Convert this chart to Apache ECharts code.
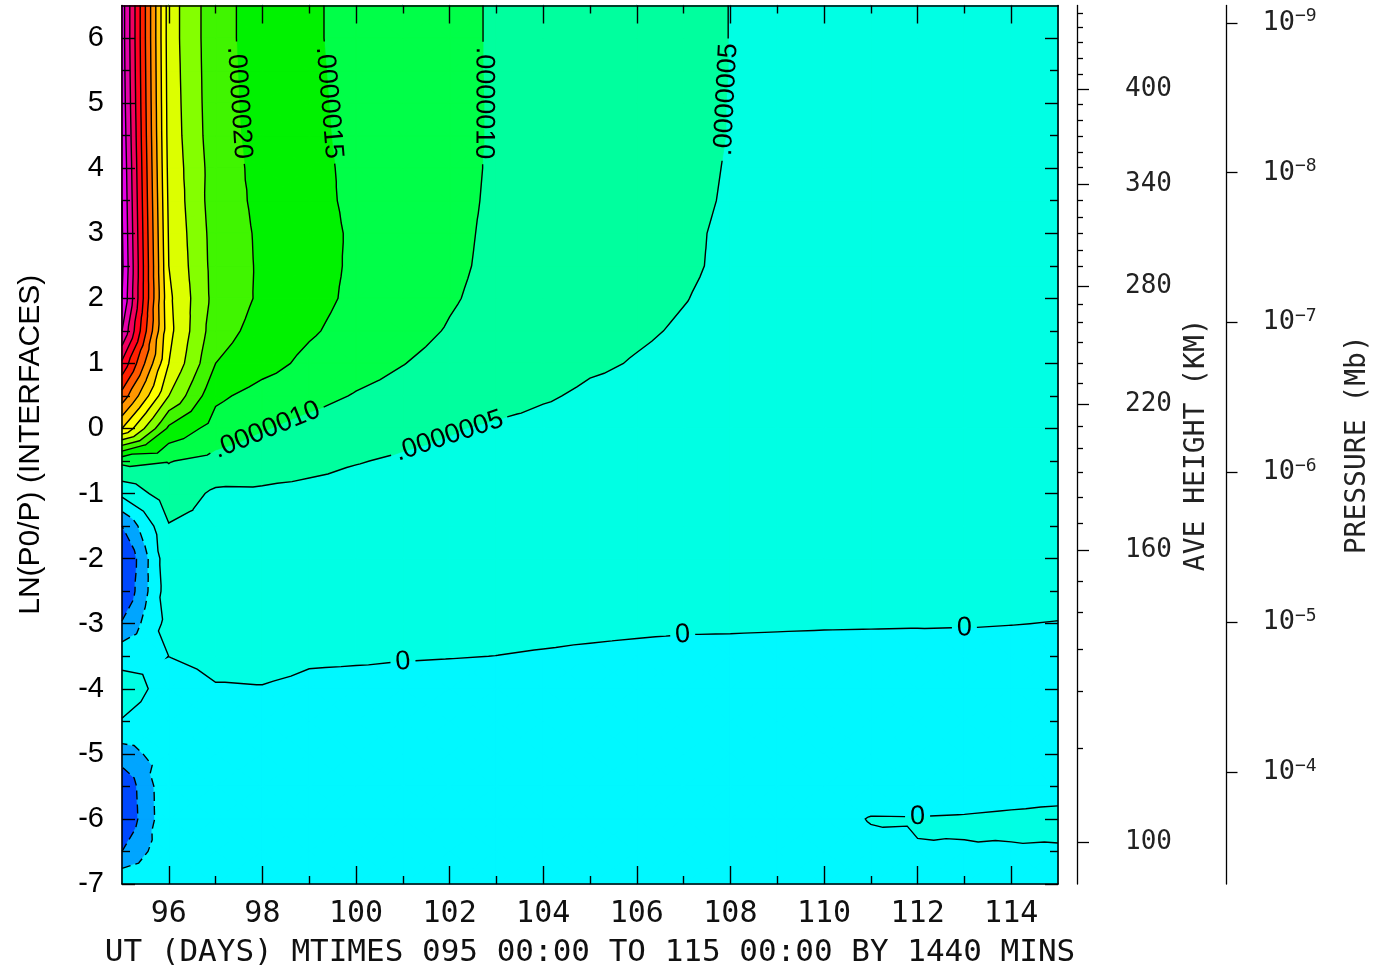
<!DOCTYPE html>
<html>
<head>
<meta charset="utf-8">
<script src="https://cdn.jsdelivr.net/npm/echarts@6.0.0/dist/echarts.min.js"></script>
<style>
html,body{margin:0;padding:0;background:#fff;}
#chart{width:1389px;height:973px;}
</style>
</head>
<body>
<div id="chart"></div>
<script>
// ================= DATA (values in units of 1e-6) =================
const days = [95,96,97,98,99,100,101,102,103,104,105,106,107,108,109,110,111,112,113,114,115];
const zp = [-7,-6.5,-6,-5.5,-5,-4.5,-4,-3.5,-3,-2.5,-2,-1.5,-1,-0.5,0,0.5,1,1.5,2,2.5,3,3.5,4,4.5,5,5.5,6,6.5];

const rowZ650 = [7.75,3.25,2.16,1.80,1.56,1.37,1.24,1.10,0.96,0.87,0.79,0.70,0.60,0.495,0.44,0.39,0.35,0.31,0.28,0.25,0.22];
const rowZ600 = [7.75,3.25,2.16,1.80,1.56,1.37,1.24,1.10,0.96,0.87,0.79,0.70,0.60,0.495,0.44,0.39,0.35,0.31,0.28,0.25,0.22];
const rowZ550 = [7.78,3.27,2.17,1.81,1.57,1.38,1.24,1.10,0.96,0.87,0.79,0.70,0.60,0.495,0.44,0.39,0.35,0.31,0.28,0.25,0.22];
const rowZ500 = [7.82,3.29,2.18,1.82,1.58,1.39,1.25,1.11,0.96,0.87,0.79,0.70,0.60,0.49,0.44,0.39,0.35,0.31,0.28,0.25,0.22];
const rowZ450 = [7.88,3.31,2.20,1.83,1.59,1.40,1.26,1.11,0.96,0.87,0.78,0.69,0.59,0.49,0.43,0.39,0.35,0.31,0.28,0.25,0.22];
const rowZ400 = [7.95,3.35,2.25,1.85,1.60,1.42,1.27,1.12,0.95,0.86,0.78,0.69,0.58,0.48,0.43,0.38,0.34,0.31,0.28,0.25,0.22];
const rowZ350 = [8.00,3.40,2.23,1.89,1.62,1.42,1.28,1.11,0.94,0.85,0.77,0.67,0.57,0.47,0.42,0.38,0.34,0.30,0.27,0.24,0.21];
const rowZ300 = [8.05,3.45,2.28,1.92,1.66,1.44,1.28,1.10,0.92,0.83,0.74,0.65,0.55,0.45,0.41,0.37,0.33,0.30,0.27,0.24,0.21];
const rowZ250 = [8.10,3.50,2.30,1.93,1.67,1.43,1.27,1.08,0.91,0.80,0.70,0.60,0.54,0.45,0.40,0.36,0.32,0.29,0.26,0.23,0.21];
const rowZ200 = [8.00,3.60,2.32,1.92,1.66,1.40,1.24,1.04,0.88,0.76,0.65,0.58,0.51,0.43,0.38,0.34,0.31,0.28,0.25,0.23,0.20];
const rowZ150 = [7.50,3.65,2.20,1.82,1.56,1.32,1.14,0.97,0.82,0.70,0.60,0.54,0.47,0.41,0.37,0.33,0.30,0.27,0.25,0.22,0.20];
const rowZ100 = [6.40,3.50,2.00,1.68,1.38,1.17,1.01,0.87,0.76,0.66,0.55,0.48,0.42,0.38,0.34,0.31,0.28,0.26,0.24,0.21,0.19];
const rowZ050 = [5.30,3.00,1.60,1.31,1.15,0.97,0.86,0.76,0.67,0.54,0.44,0.40,0.36,0.33,0.30,0.28,0.26,0.24,0.22,0.20,0.18];
const rowZ000 = [4.00,1.90,1.29,1.03,0.85,0.72,0.62,0.53,0.44,0.38,0.34,0.31,0.29,0.27,0.25,0.23,0.21,0.19,0.18,0.16,0.15];
const rowZm050 = [1.12,1.02,0.85,0.72,0.62,0.52,0.45,0.40,0.35,0.31,0.28,0.26,0.24,0.22,0.20,0.18,0.16,0.15,0.14,0.13,0.12];
const rowZm100 = [0.12,0.775,0.42,0.43,0.39,0.35,0.31,0.28,0.25,0.22,0.20,0.18,0.16,0.15,0.14,0.13,0.12,0.11,0.10,0.10,0.09];
const rowZm150 = [-1.00,0.47,0.35,0.30,0.27,0.24,0.22,0.20,0.18,0.16,0.15,0.13,0.12,0.11,0.10,0.09,0.09,0.08,0.08,0.07,0.07];
const rowZm200 = [-1.62,0.38,0.27,0.23,0.20,0.18,0.16,0.14,0.13,0.12,0.11,0.10,0.09,0.08,0.08,0.07,0.07,0.06,0.06,0.05,0.05];
const rowZm250 = [-1.50,0.30,0.20,0.17,0.15,0.13,0.12,0.10,0.09,0.085,0.08,0.075,0.07,0.065,0.06,0.055,0.05,0.045,0.04,0.035,0.03];
const rowZm300 = [-0.95,0.18,0.12,0.10,0.08,0.07,0.06,0.05,0.04,0.035,0.03,0.025,0.02,0.018,0.015,0.012,0.01,0.008,0.006,0.002,-0.003];
const rowZm350 = [-0.14,0.002,0.08,0.07,0.025,0.02,0.01,0.005,-0.001,-0.01,-0.02,-0.03,-0.04,-0.04,-0.045,-0.05,-0.05,-0.05,-0.04,-0.04,-0.04];
const rowZm400 = [0.186,-0.146,-0.02,-0.01,-0.04,-0.05,-0.05,-0.06,-0.06,-0.07,-0.07,-0.07,-0.07,-0.07,-0.07,-0.07,-0.07,-0.07,-0.07,-0.07,-0.07];
const rowZm450 = [-0.02,-0.20,-0.08,-0.08,-0.08,-0.08,-0.08,-0.08,-0.08,-0.08,-0.08,-0.08,-0.08,-0.08,-0.08,-0.08,-0.08,-0.08,-0.08,-0.08,-0.08];
const rowZm500 = [-0.72,-0.23,-0.08,-0.08,-0.08,-0.08,-0.08,-0.08,-0.08,-0.08,-0.08,-0.08,-0.08,-0.08,-0.08,-0.08,-0.08,-0.08,-0.08,-0.08,-0.08];
const rowZm550 = [-1.42,-0.07,-0.07,-0.07,-0.07,-0.07,-0.07,-0.07,-0.07,-0.07,-0.07,-0.07,-0.07,-0.06,-0.06,-0.05,-0.045,-0.04,-0.037,-0.031,-0.03];
const rowZm600 = [-1.47,-0.08,-0.07,-0.07,-0.07,-0.07,-0.07,-0.07,-0.07,-0.07,-0.07,-0.06,-0.06,-0.055,-0.05,-0.03,0.004,0.003,0.006,0.012,0.02];
const rowZm650 = [-1.00,-0.10,-0.06,-0.06,-0.06,-0.06,-0.06,-0.06,-0.06,-0.06,-0.06,-0.05,-0.05,-0.05,-0.045,-0.04,-0.02,-0.002,-0.0034,-0.005,-0.007];
const rowZm700 = [-0.04,-0.05,-0.04,-0.04,-0.04,-0.04,-0.04,-0.04,-0.04,-0.04,-0.04,-0.04,-0.04,-0.04,-0.04,-0.04,-0.04,-0.04,-0.04,-0.04,-0.04];

const gridRows = [rowZm700,rowZm650,rowZm600,rowZm550,rowZm500,rowZm450,rowZm400,rowZm350,rowZm300,rowZm250,rowZm200,rowZm150,rowZm100,rowZm050,rowZ000,rowZ050,rowZ100,rowZ150,rowZ200,rowZ250,rowZ300,rowZ350,rowZ400,rowZ450,rowZ500,rowZ550,rowZ600,rowZ650];

const contourLevels = [-1.0,-0.5,0,0.5,1.0,1.5,2.0,2.5,3.0,3.5,4.0,4.5,5.0,5.5,6.0,6.5,7.0,7.5,8.0];
const bandColors = ['#0048ff','#00a5ff','#00f8ff','#00ffe4','#00ff9e','#00ff48','#00f200','#40f500','#84ff00','#dcff00','#ffff00','#ffcc00','#ff9600','#ff5a00','#ff2000','#ff0020','#f00060','#e600a8','#e600e6','#c800ff'];

// contour label anchors: level and the (day, ln p0/p) point near which the label sits
const contourLabels = [
  {level:2.0, day:97.35, z:5.0, dir:'down'},
  {level:1.5, day:99.3, z:5.0, dir:'down'},
  {level:1.0, day:102.7, z:5.0, dir:'down'},
  {level:0.5, day:107.95, z:5.05, dir:'up'},
  {level:1.0, day:98.1, z:-0.03},
  {level:0.5, day:102.0, z:-0.13},
  {level:0, day:101.0, z:-3.55},
  {level:0, day:107.0, z:-3.33},
  {level:0, day:113.0, z:-3.07},
  {level:0, day:112.0, z:-5.97}
];

const yTickValues = [-7,-6,-5,-4,-3,-2,-1,0,1,2,3,4,5,6];
const yHalfTicks = [-6.5,-5.5,-4.5,-3.5,-2.5,-1.5,-0.5,0.5,1.5,2.5,3.5,4.5,5.5];
const xLabelDays = [96,98,100,102,104,106,108,110,112,114];
const xOddDays = [97,99,101,103,105,107,109,111,113];

// average height axis (km) and the ln(p0/p) where each tick sits
const heightKm  = [100,110,120,130,140,150,160,170,180,190,200,210,220,230,240,250,260,270,280,290,300,310,320,330,340,350,360,370,380,390,400,410,420,430,440,450];
const heightZp  = [-6.36,-4.91,-4.04,-3.39,-2.83,-2.34,-1.87,-1.45,-1.06,-0.68,-0.30,0.04,0.38,0.69,1.01,1.32,1.63,1.91,2.19,2.49,2.74,3.00,3.25,3.51,3.76,4.01,4.25,4.49,4.74,4.98,5.21,5.45,5.69,5.93,6.16,6.38];
const heightLabelKm = [100,160,220,280,340,400];

// pressure axis (mb): exponents, reference pressure p0
const pressureExp = [-9,-8,-7,-6,-5,-4];
const P0 = 5.1e-7;

// ================= helpers =================
const MONO = '"DejaVu Sans Mono", "Liberation Mono", monospace';
const SANS = '"Liberation Sans", Arial, sans-serif';
const LABEL_FONT = '27px "Liberation Sans", Arial, sans-serif';

const heightMajorZ = heightLabelKm.map(h => heightZp[heightKm.indexOf(h)]);
const heightMinorZ = heightZp.filter((z, i) => heightLabelKm.indexOf(heightKm[i]) < 0);
const pressureZ = pressureExp.map(e => Math.log(P0 / Math.pow(10, e)));
const keyOf = v => v.toFixed(3);
const heightLabelMap = {};
heightLabelKm.forEach(h => { heightLabelMap[keyOf(heightZp[heightKm.indexOf(h)])] = String(h); });
const pressureLabelMap = {};
pressureExp.forEach((e, i) => { pressureLabelMap[keyOf(pressureZ[i])] = '{b|10}{s|\u2212' + Math.abs(e) + '}'; });

const measureCtx = document.createElement('canvas').getContext('2d');
function textWidth(t, font) { measureCtx.font = font; return measureCtx.measureText(t).width; }

function levelText(L) {
  if (Math.abs(L) < 1e-9) return '0';
  const n = Math.round(Math.abs(L) * 10);
  let s = String(n); while (s.length < 7) s = '0' + s;
  return (L < 0 ? '-' : '') + '.' + s;
}

function clipAbove(poly, L) {
  const out = [];
  for (let i = 0; i < poly.length; i++) {
    const A = poly[i], B = poly[(i + 1) % poly.length];
    const ina = A.v >= L, inb = B.v >= L;
    if (ina) out.push(A);
    if (ina !== inb) {
      const t = (L - A.v) / (B.v - A.v);
      out.push({x: A.x + t * (B.x - A.x), y: A.y + t * (B.y - A.y), v: L});
    }
  }
  return out;
}

function chainSegments(segs) {
  const byKey = new Map();
  segs.forEach((s, idx) => {
    [s.k1, s.k2].forEach(k => { if (!byKey.has(k)) byKey.set(k, []); byKey.get(k).push(idx); });
  });
  const used = new Array(segs.length).fill(false);
  const lines = [];
  function walk(startIdx, startKey) {
    const line = [];
    let idx = startIdx, key = startKey;
    let s = segs[idx];
    line.push(s.k1 === key ? s.p1 : s.p2);
    while (idx !== -1 && !used[idx]) {
      used[idx] = true; s = segs[idx];
      const otherKey = s.k1 === key ? s.k2 : s.k1;
      const otherPt = s.k1 === key ? s.p2 : s.p1;
      line.push(otherPt);
      const nb = byKey.get(otherKey).filter(t => !used[t]);
      key = otherKey; idx = nb.length ? nb[0] : -1;
    }
    return line;
  }
  for (const [k, arr] of byKey) { if (arr.length === 1 && !used[arr[0]]) lines.push(walk(arr[0], k)); }
  for (let i = 0; i < segs.length; i++) if (!used[i]) lines.push(walk(i, segs[i].k1));
  return lines;
}

function cumLen(line) {
  const c = [0];
  for (let i = 1; i < line.length; i++) c.push(c[i - 1] + Math.hypot(line[i][0] - line[i - 1][0], line[i][1] - line[i - 1][1]));
  return c;
}
function pointAt(line, cum, s) {
  if (s <= 0) return line[0].slice();
  const tot = cum[cum.length - 1];
  if (s >= tot) return line[line.length - 1].slice();
  for (let i = 0; i < line.length - 1; i++) {
    if (s <= cum[i + 1]) {
      const d = cum[i + 1] - cum[i] || 1, t = (s - cum[i]) / d;
      return [line[i][0] + t * (line[i + 1][0] - line[i][0]), line[i][1] + t * (line[i + 1][1] - line[i][1])];
    }
  }
  return line[line.length - 1].slice();
}
function subLine(line, cum, s0, s1) {
  const pts = [pointAt(line, cum, s0)];
  for (let i = 0; i < line.length; i++) if (cum[i] > s0 && cum[i] < s1) pts.push(line[i]);
  pts.push(pointAt(line, cum, s1));
  return pts;
}

function renderContours(params, api) {
  const nx = days.length, ny = zp.length;
  const V = [];
  for (let j = 0; j < ny; j++) for (let i = 0; i < nx; i++) {
    const c = api.coord([days[i], zp[j]]);
    V.push({x: c[0], y: c[1], v: gridRows[j][i]});
  }
  const tris = [];
  for (let j = 0; j < ny - 1; j++) for (let i = 0; i < nx - 1; i++) {
    const a = j * nx + i, b = a + 1, c = a + nx + 1, d = a + nx;
    const m = V.length;
    V.push({x: (V[a].x + V[b].x + V[c].x + V[d].x) / 4, y: (V[a].y + V[b].y + V[c].y + V[d].y) / 4, v: (V[a].v + V[b].v + V[c].v + V[d].v) / 4});
    tris.push([a, b, m], [b, c, m], [c, d, m], [d, a, m]);
  }
  const children = [];
  const p0 = api.coord([days[0], zp[0]]), p1 = api.coord([days[nx - 1], zp[ny - 1]]);
  children.push({type: 'rect', shape: {x: p0[0], y: p1[1], width: p1[0] - p0[0], height: p0[1] - p1[1]}, style: {fill: bandColors[0]}});
  contourLevels.forEach((L, k) => {
    let d = '';
    for (const t of tris) {
      const poly = [V[t[0]], V[t[1]], V[t[2]]];
      if (poly[0].v < L && poly[1].v < L && poly[2].v < L) continue;
      const cp = clipAbove(poly, L);
      if (cp.length < 3) continue;
      d += 'M' + cp.map(p => p.x.toFixed(2) + ' ' + p.y.toFixed(2)).join('L') + 'Z';
    }
    if (d) children.push({type: 'path', shape: {pathData: d}, style: {fill: bandColors[k + 1], stroke: bandColors[k + 1], lineWidth: 0.8}});
  });
  // contour lines
  const linesByLevel = {};
  contourLevels.forEach(L => {
    const segs = [];
    for (const t of tris) {
      const ab = t.map(id => V[id].v >= L);
      if (ab[0] === ab[1] && ab[1] === ab[2]) continue;
      const pts = [], keys = [];
      for (let e = 0; e < 3; e++) {
        const ia = t[e], ib = t[(e + 1) % 3];
        if (ab[e] !== ab[(e + 1) % 3]) {
          const A = V[ia], B = V[ib], tt = (L - A.v) / (B.v - A.v);
          pts.push([A.x + tt * (B.x - A.x), A.y + tt * (B.y - A.y)]);
          keys.push(ia < ib ? ia + '_' + ib : ib + '_' + ia);
        }
      }
      if (pts.length === 2) segs.push({k1: keys[0], k2: keys[1], p1: pts[0], p2: pts[1]});
    }
    linesByLevel[keyOf(L)] = chainSegments(segs);
  });
  // labels: cut gaps
  const texts = [];
  contourLabels.forEach(cfg => {
    const lines = linesByLevel[keyOf(cfg.level)];
    if (!lines || !lines.length) return;
    const target = api.coord([cfg.day, cfg.z]);
    let best = null;
    lines.forEach((line, li) => {
      const cum = cumLen(line);
      for (let i = 0; i < line.length - 1; i++) {
        const ax = line[i][0], ay = line[i][1], bx = line[i + 1][0], by = line[i + 1][1];
        const dx = bx - ax, dy = by - ay, l2 = dx * dx + dy * dy || 1;
        let t = ((target[0] - ax) * dx + (target[1] - ay) * dy) / l2; t = Math.max(0, Math.min(1, t));
        const px = ax + t * dx, py = ay + t * dy, dd = Math.hypot(px - target[0], py - target[1]);
        if (!best || dd < best.dd) best = {dd, li, s: cum[i] + t * Math.sqrt(l2), cum};
      }
    });
    if (!best) return;
    const txt = levelText(cfg.level);
    const w = textWidth(txt, LABEL_FONT);
    const h = w / 2 + 5;
    const line = lines[best.li], cum = best.cum, tot = cum[cum.length - 1];
    const a = pointAt(line, cum, best.s - h), b = pointAt(line, cum, best.s + h), c = pointAt(line, cum, best.s);
    let ang = Math.atan2(-(b[1] - a[1]), b[0] - a[0]);
    if (ang > Math.PI / 2) ang -= Math.PI; if (ang <= -Math.PI / 2) ang += Math.PI;
    if (cfg.dir === 'down' && ang > 0) ang -= Math.PI;
    if (cfg.dir === 'up' && ang < 0) ang += Math.PI;
    const pieces = [];
    if (best.s - h > 0) pieces.push(subLine(line, cum, 0, best.s - h));
    if (best.s + h < tot) pieces.push(subLine(line, cum, best.s + h, tot));
    lines.splice(best.li, 1, ...pieces);
    texts.push({type: 'text', x: c[0], y: c[1], rotation: ang, z2: 20,
      style: {text: txt, font: LABEL_FONT, fill: '#000', align: 'center', verticalAlign: 'middle'}});
  });
  contourLevels.forEach(L => {
    const lines = linesByLevel[keyOf(L)];
    lines.forEach(line => {
      if (line.length < 2) return;
      children.push({type: 'polyline', shape: {points: line}, z2: 10,
        style: {stroke: '#000', lineWidth: 1.4, fill: null, lineDash: L < 0 ? [9, 5] : null}});
    });
  });
  return {type: 'group', children: children.concat(texts)};
}

// ================= chart =================
const chart = echarts.init(document.getElementById('chart'), null, {renderer: 'canvas'});
const frameLine = {show: true, onZero: false, lineStyle: {color: '#000', width: 1.6}};
const noLine = {show: false, onZero: false};
const baseY = {type: 'value', min: -7, max: 6.5, interval: 1, splitLine: {show: false}, z: 10};
const baseX = {type: 'value', min: 95, max: 115, interval: 1, splitLine: {show: false}, z: 10};
const tickStyle = {color: '#000', width: 1.4};

const option = {
  animation: false,
  backgroundColor: '#fff',
  grid: {left: 122, right: 331, top: 5.5, bottom: 89, containLabel: false},
  xAxis: [
    Object.assign({}, baseX, {position: 'bottom', axisLine: frameLine,
      axisTick: {inside: true, length: 18, customValues: xLabelDays, lineStyle: tickStyle},
      axisLabel: {customValues: xLabelDays, margin: 15, fontFamily: MONO, fontSize: 30, color: '#111'},
      name: 'UT (DAYS) MTIMES 095 00:00 TO 115 00:00 BY 1440 MINS', nameLocation: 'middle', nameGap: 53,
      nameTextStyle: {fontFamily: MONO, fontSize: 31, color: '#111'}}),
    Object.assign({}, baseX, {position: 'bottom', axisLine: noLine,
      axisTick: {inside: true, length: 8, customValues: xOddDays, lineStyle: tickStyle},
      axisLabel: {show: false}}),
    Object.assign({}, baseX, {position: 'top', axisLine: frameLine,
      axisTick: {inside: true, length: 18, customValues: xLabelDays, lineStyle: tickStyle},
      axisLabel: {show: false}}),
    Object.assign({}, baseX, {position: 'top', axisLine: noLine,
      axisTick: {inside: true, length: 8, customValues: xOddDays, lineStyle: tickStyle},
      axisLabel: {show: false}})
  ],
  yAxis: [
    Object.assign({}, baseY, {position: 'left', axisLine: frameLine,
      axisTick: {inside: true, length: 13, customValues: yTickValues, lineStyle: tickStyle},
      axisLabel: {customValues: yTickValues, margin: 18, fontFamily: SANS, fontSize: 29, color: '#000'},
      name: 'LN(P0/P) (INTERFACES)', nameLocation: 'middle', nameGap: 76,
      nameTextStyle: {fontFamily: SANS, fontSize: 30, color: '#000'}}),
    Object.assign({}, baseY, {position: 'left', axisLine: noLine,
      axisTick: {inside: true, length: 8, customValues: yHalfTicks, lineStyle: tickStyle},
      axisLabel: {show: false}}),
    Object.assign({}, baseY, {position: 'right', offset: 0, axisLine: frameLine,
      axisTick: {inside: true, length: 13, customValues: yTickValues, lineStyle: tickStyle},
      axisLabel: {show: false}}),
    Object.assign({}, baseY, {position: 'right', offset: 0, axisLine: noLine,
      axisTick: {inside: true, length: 8, customValues: yHalfTicks, lineStyle: tickStyle},
      axisLabel: {show: false}}),
    Object.assign({}, baseY, {position: 'right', offset: 19, axisLine: {show: true, onZero: false, lineStyle: {color: '#000', width: 1.3}},
      axisTick: {inside: false, length: 12, customValues: heightMajorZ, lineStyle: {color: '#000', width: 1.3}},
      axisLabel: {customValues: heightMajorZ, margin: 48, fontFamily: MONO, fontSize: 26, color: '#222',
        formatter: v => heightLabelMap[keyOf(v)] || ''},
      name: 'AVE HEIGHT (KM)', nameLocation: 'middle', nameRotate: 90, nameGap: 98,
      nameTextStyle: {fontFamily: MONO, fontSize: 28, color: '#222'}}),
    Object.assign({}, baseY, {position: 'right', offset: 19, axisLine: noLine,
      axisTick: {inside: false, length: 6, customValues: heightMinorZ, lineStyle: {color: '#000', width: 1.3}},
      axisLabel: {show: false}}),
    Object.assign({}, baseY, {position: 'right', offset: 168.5, axisLine: {show: true, onZero: false, lineStyle: {color: '#000', width: 1.3}},
      axisTick: {inside: false, length: 11, customValues: pressureZ, lineStyle: {color: '#000', width: 1.3}},
      axisLabel: {customValues: pressureZ, margin: 36, color: '#222',
        formatter: v => pressureLabelMap[keyOf(v)] || '',
        rich: {
          b: {fontFamily: MONO, fontSize: 27, color: '#222', lineHeight: 30, verticalAlign: 'middle'},
          s: {fontFamily: MONO, fontSize: 18, color: '#222', lineHeight: 14, verticalAlign: 'top'}
        }},
      name: 'PRESSURE (Mb)', nameLocation: 'middle', nameRotate: 90, nameGap: 117,
      nameTextStyle: {fontFamily: MONO, fontSize: 28, color: '#222'}})
  ],
  series: [{
    type: 'custom',
    coordinateSystem: 'cartesian2d',
    xAxisIndex: 0, yAxisIndex: 0,
    data: [[95, -7]],
    silent: true,
    z: 1,
    renderItem: renderContours
  }]
};
chart.setOption(option);
</script>
</body>
</html>
